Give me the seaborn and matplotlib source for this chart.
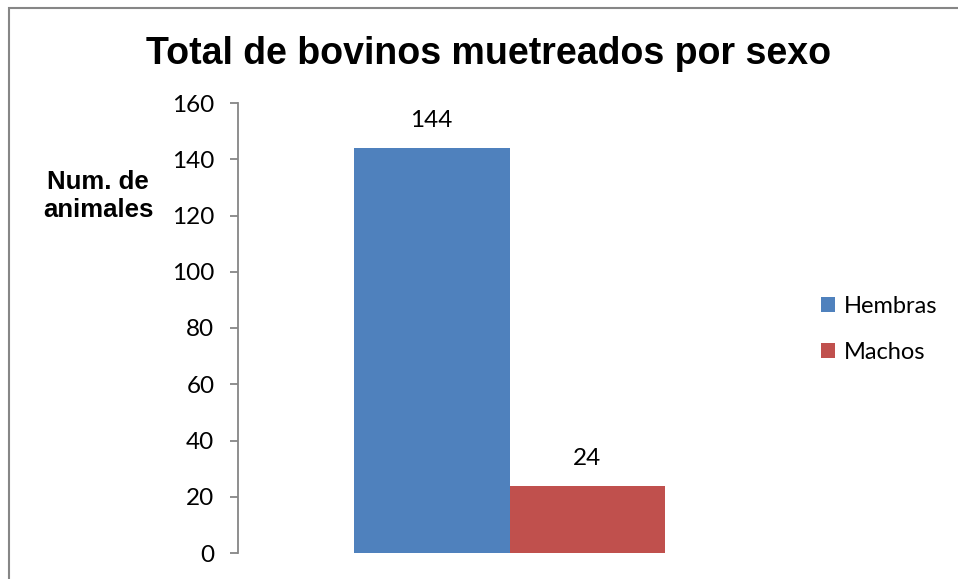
import matplotlib
matplotlib.use("Agg")
import matplotlib.pyplot as plt
import seaborn as sns
import pandas as pd
from matplotlib.patches import Rectangle

categories = ["Total"]
sexes = ["Hembras", "Machos"]
counts = [144, 24]
colors = ["#4F81BD", "#C0504D"]
y_ticks = [0, 20, 40, 60, 80, 100, 120, 140, 160]

df = pd.DataFrame({"cat": categories * len(sexes), "sexo": sexes, "n": counts})

sns.set_theme(style="white")
plt.rcParams["font.family"] = ["Lato", "DejaVu Sans"]
plt.rcParams["text.color"] = "black"

fig = plt.figure(figsize=(9.58, 5.79), dpi=100)
ax = fig.add_axes([238 / 958, 1 - 553 / 579, (781 - 238) / 958, (553 - 103) / 579])

sns.barplot(data=df, x="cat", y="n", hue="sexo", palette=colors, ax=ax,
            width=0.573, saturation=1, legend=True, gap=0, linewidth=0)

ax.set_ylim(0, 160)
ax.set_xlim(-0.5, 0.5)
ax.set_yticks(y_ticks)
ax.set_yticklabels([str(t) for t in y_ticks], fontsize=17.5)
ax.set_xticks([])
ax.set_xlabel("")
ax.set_ylabel("")
for s in ["top", "right", "bottom"]:
    ax.spines[s].set_visible(False)
ax.spines["left"].set_color("#868686")
ax.spines["left"].set_linewidth(1.3)
ax.tick_params(axis="y", which="major", left=True, direction="out", length=6,
               width=1.3, color="#868686", pad=11, labelcolor="black")

for cont in ax.containers:
    ax.bar_label(cont, labels=[f"{v:.0f}" for v in cont.datavalues],
                 padding=12, fontsize=17.5, color="black")

leg = ax.legend(loc="center left", bbox_to_anchor=(1.035, 0.497), frameon=False,
                fontsize=17, handlelength=0.6, handleheight=0.6, labelspacing=1.05,
                handletextpad=0.35)
for t in leg.get_texts():
    t.set_color("black")

fig.text(489 / 958, 1 - 54 / 579, "Total de bovinos muetreados por sexo",
         ha="center", va="center", fontsize=27, fontweight="bold", color="black",
         family=["Liberation Sans", "DejaVu Sans"])
fig.text(98 / 958, 1 - 196 / 579, "Num. de\nanimales", ha="center", va="center",
         fontsize=18.5, fontweight="bold", color="black",
         family=["Liberation Sans", "DejaVu Sans"], linespacing=1.25)

# chart frame
fig.patches.append(Rectangle((8.5 / 958, -0.1), 1.2, 1 - 7.5 / 579 + 0.1,
                             transform=fig.transFigure, fill=False,
                             edgecolor="#868686", linewidth=1.5, clip_on=False))

fig.savefig("out.png", dpi=100)
